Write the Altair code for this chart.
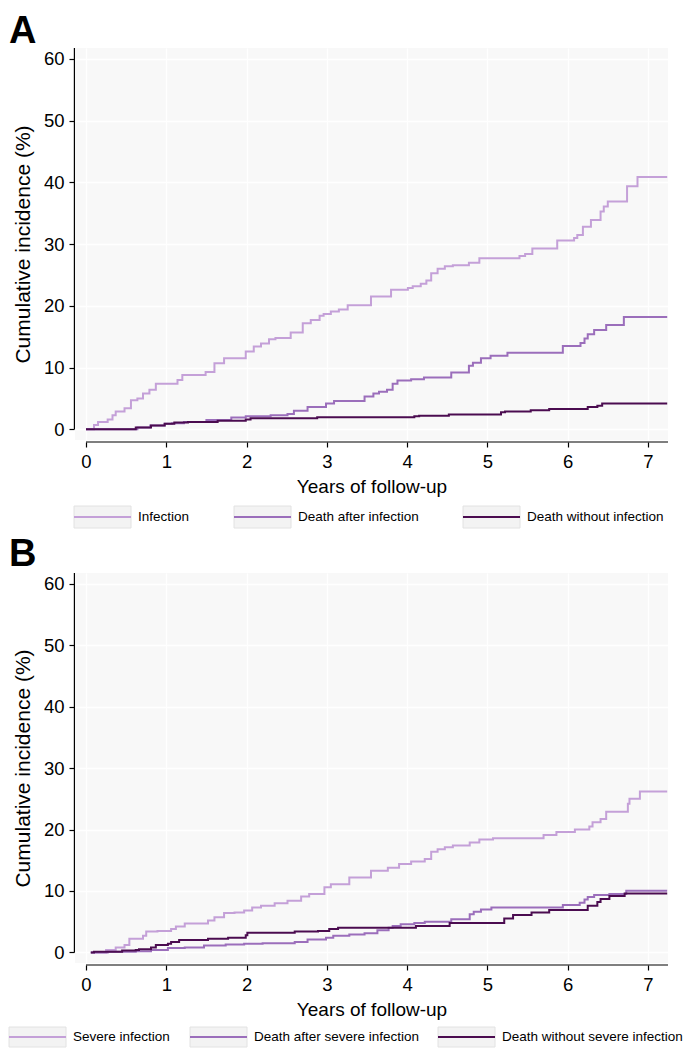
import altair as alt
import pandas as pd

# ---------------- data ----------------
# Panel A
A_NAMES = ["Infection", "Death after infection", "Death without infection"]
A_INF_T = [0, 0.10, 0.15, 0.27, 0.33, 0.37, 0.48, 0.56, 0.64, 0.71, 0.79, 0.87, 1.14, 1.20, 1.49, 1.60, 1.72,
           1.99, 2.09, 2.18, 2.28, 2.36, 2.55, 2.70, 2.80, 2.91, 2.96, 3.05, 3.15, 3.26, 3.55, 3.80, 4.01, 4.07,
           4.17, 4.24, 4.30, 4.38, 4.47, 4.57, 4.77, 4.90, 5.40, 5.47, 5.56, 5.87, 6.08, 6.12, 6.19, 6.29, 6.41,
           6.45, 6.50, 6.74, 6.87, 7.24]
A_INF_V = [0, 0.7, 1.2, 1.6, 2.3, 2.9, 3.4, 4.7, 5.0, 5.8, 6.4, 7.4, 8.0, 8.8, 9.3, 10.7, 11.5,
           12.6, 13.4, 13.9, 14.6, 14.8, 15.7, 17.2, 17.7, 18.4, 18.7, 19.1, 19.4, 20.1, 21.5, 22.6, 22.9, 23.2,
           23.6, 24.1, 25.3, 26.0, 26.4, 26.6, 27.0, 27.7, 28.1, 28.4, 29.3, 30.6, 31.0, 31.5, 32.8, 33.9, 35.3,
           36.1, 36.9, 39.4, 40.9, 40.9]
A_DAI_T = [0, 0.64, 0.80, 0.98, 1.07, 1.22, 1.50, 1.81, 1.99, 2.30, 2.51, 2.59, 2.76, 2.99, 3.09, 3.47, 3.58,
           3.65, 3.75, 3.82, 3.88, 4.05, 4.21, 4.55, 4.77, 4.82, 4.92, 5.04, 5.25, 5.94, 6.16, 6.21, 6.25, 6.33,
           6.48, 6.70, 7.24]
A_DAI_V = [0, 0.3, 0.6, 0.9, 1.0, 1.2, 1.5, 1.9, 2.1, 2.3, 2.5, 3.0, 3.6, 4.2, 4.6, 5.3, 5.8,
           6.1, 6.4, 7.4, 7.9, 8.1, 8.4, 9.2, 10.3, 10.8, 11.5, 11.9, 12.4, 13.5, 14.0, 14.7, 15.4, 16.1,
           16.9, 18.2, 18.2]
A_DWI_T = [0, 0.62, 0.81, 0.98, 1.10, 1.27, 1.64, 1.99, 2.05, 2.88, 4.09, 4.15, 4.52, 5.17, 5.22, 5.54, 5.77,
           6.25, 6.37, 6.43, 7.24]
A_DWI_V = [0, 0.3, 0.6, 0.9, 1.1, 1.2, 1.4, 1.6, 1.8, 1.95, 2.1, 2.2, 2.4, 2.75, 2.9, 3.1, 3.3,
           3.6, 3.8, 4.2, 4.2]

# Panel B
B_NAMES = ["Severe infection", "Death after severe infection", "Death without severe infection"]
B_SI_T = [0.06, 0.25, 0.37, 0.48, 0.54, 0.71, 0.75, 0.89, 1.06, 1.12, 1.23, 1.52, 1.60, 1.72, 1.85, 1.97, 2.07,
          2.18, 2.35, 2.51, 2.68, 2.78, 2.97, 3.05, 3.28, 3.55, 3.76, 3.90, 4.05, 4.22, 4.30, 4.38, 4.47, 4.57,
          4.78, 4.90, 5.07, 5.70, 5.86, 6.09, 6.27, 6.31, 6.41, 6.48, 6.75, 6.77, 6.90, 7.24]
B_SI_V = [0, 0.4, 0.8, 1.2, 2.2, 2.7, 3.4, 3.5, 3.8, 4.2, 4.7, 5.2, 5.7, 6.4, 6.5, 6.8, 7.3,
          7.6, 8.0, 8.4, 9.1, 9.5, 10.6, 11.1, 12.2, 13.3, 13.8, 14.4, 14.8, 15.2, 16.4, 16.8, 17.1, 17.4,
          17.9, 18.4, 18.6, 19.1, 19.6, 20.0, 20.5, 21.2, 21.7, 22.9, 24.2, 25.0, 26.2, 26.2]
B_DASI_T = [0.06, 0.27, 0.62, 0.81, 1.02, 1.23, 1.47, 1.74, 1.97, 2.20, 2.60, 2.76, 2.99, 3.08, 3.28, 3.47, 3.63,
            3.77, 3.82, 3.92, 4.09, 4.22, 4.55, 4.78, 4.83, 4.92, 5.05, 5.94, 6.15, 6.21, 6.25, 6.33, 6.52,
            6.73, 7.24]
B_DASI_V = [0, 0.1, 0.2, 0.4, 0.7, 0.8, 1.1, 1.3, 1.4, 1.5, 1.7, 2.1, 2.4, 2.7, 2.9, 3.1, 3.6,
            4.0, 4.3, 4.6, 4.8, 5.0, 5.4, 6.2, 6.6, 7.0, 7.3, 7.7, 8.1, 8.6, 9.0, 9.35, 9.5,
            10.05, 10.05]
B_DWSI_T = [0.06, 0.10, 0.45, 0.62, 0.66, 0.81, 0.87, 1.02, 1.06, 1.16, 1.52, 1.77, 1.99, 2.01, 2.60, 2.89, 3.03,
            3.14, 4.11, 4.53, 5.21, 5.32, 5.55, 5.77, 6.25, 6.37, 6.41, 6.52, 6.71, 7.24]
B_DWSI_V = [0, 0.1, 0.3, 0.4, 0.5, 0.8, 1.2, 1.4, 1.7, 2.0, 2.2, 2.4, 2.8, 3.2, 3.4, 3.5, 3.8,
            4.0, 4.3, 4.8, 5.5, 6.1, 6.5, 6.9, 7.6, 8.2, 8.7, 9.2, 9.6, 9.6]

X_TICKS = [0, 1, 2, 3, 4, 5, 6, 7]
Y_TICKS = [0, 10, 20, 30, 40, 50, 60]
X_TITLE = "Years of follow-up"
Y_TITLE = "Cumulative incidence (%)"

# ---------------- style ----------------
FONT = "Liberation Sans"
COLORS = ["#c4a0d8", "#9b6ebb", "#4b0c50"]
BG = "#f8f8f8"
XMIN, XMAX = -0.137, 7.25
YMIN, YMAX = -1.73, 61.78
W = 593

AXIS_COMMON = dict(domain=False, tickSize=5, tickColor="black", tickWidth=1.2, labelPadding=5,
                   labelFontSize=18.5, grid=True, gridColor="white", gridWidth=1.3,
                   labelColor="black", titleColor="black", labelFont=FONT, titleFont=FONT,
                   titleFontWeight="normal")


def panel(letter, names, series, H, letter_y, legend_x, legend_dy, box_half):
    rows = []
    for name, (ts, vs) in zip(names, series):
        assert len(ts) == len(vs)
        for t, v in zip(ts, vs):
            rows.append({"series": name, "t": t, "v": v})
    df = pd.DataFrame(rows)
    xs = alt.Scale(domain=[XMIN, XMAX], nice=False, zero=False)
    ys = alt.Scale(domain=[YMIN, YMAX], nice=False, zero=False)
    xax = alt.Axis(values=X_TICKS, title=X_TITLE, offset=2, titleFontSize=19, titlePadding=7, **AXIS_COMMON)
    yax = alt.Axis(values=Y_TICKS, title=Y_TITLE, offset=1, titleFontSize=21, titlePadding=10, **AXIS_COMMON)

    lines = alt.Chart(df).mark_line(interpolate="step-after", strokeWidth=2).encode(
        x=alt.X("t:Q", scale=xs, axis=xax),
        y=alt.Y("v:Q", scale=ys, axis=yax),
        color=alt.Color("series:N", scale=alt.Scale(domain=names, range=COLORS), legend=None),
    )

    yrule = alt.Chart(alt.Data(values=[{}])).mark_rule(color="black", strokeWidth=1.2).encode(
        x=alt.value(-0.6),
        y=alt.Y(datum=0, scale=ys, axis=yax),
        y2=alt.Y2(datum=YMAX),
    )
    xrule = alt.Chart(alt.Data(values=[{}])).mark_rule(color="black", strokeWidth=1.2).encode(
        x=alt.X(datum=0, scale=xs, axis=xax),
        x2=alt.X2(datum=XMAX),
        y=alt.value(H + 2),
    )
    letter_mark = alt.Chart(alt.Data(values=[{}])).mark_text(
        text=letter, font=FONT, fontSize=38, fontWeight="bold", align="left", baseline="alphabetic",
        color="black").encode(x=alt.value(-66), y=alt.value(letter_y))

    layers = [lines, yrule, xrule, letter_mark]
    for name, color, bx in zip(names, COLORS, legend_x):
        cy = H + legend_dy
        box = alt.Chart(alt.Data(values=[{}])).mark_rect(
            fill="#f3f3f3", stroke="#e2e2e2", strokeWidth=1).encode(
            x=alt.value(bx), x2=alt.value(bx + 57),
            y=alt.value(cy - box_half), y2=alt.value(cy + box_half))
        sym = alt.Chart(alt.Data(values=[{}])).mark_rule(color=color, strokeWidth=2).encode(
            x=alt.value(bx), x2=alt.value(bx + 57), y=alt.value(cy))
        lab = alt.Chart(alt.Data(values=[{}])).mark_text(
            text=name, font=FONT, fontSize=13.5, align="left", baseline="middle", color="black").encode(
            x=alt.value(bx + 64), y=alt.value(cy))
        layers += [box, sym, lab]

    return alt.layer(*layers).properties(width=W, height=H)


panel_a = panel("A", A_NAMES, [(A_INF_T, A_INF_V), (A_DAI_T, A_DAI_V), (A_DWI_T, A_DWI_V)],
                H=392, letter_y=-5.5, legend_x=[-1, 159, 388], legend_dy=77, box_half=11)
panel_b = panel("B", B_NAMES, [(B_SI_T, B_SI_V), (B_DASI_T, B_DASI_V), (B_DWSI_T, B_DWSI_V)],
                H=390, letter_y=-7, legend_x=[-66, 115, 363], legend_dy=74, box_half=10)

chart = alt.vconcat(panel_a, panel_b, spacing=7).properties(
    padding={"top": 4, "left": 0, "right": 0, "bottom": 0}
).configure(font=FONT).configure_view(fill=BG, strokeWidth=0)

chart.save("out.html", embed_options={"renderer": "svg", "actions": False})
